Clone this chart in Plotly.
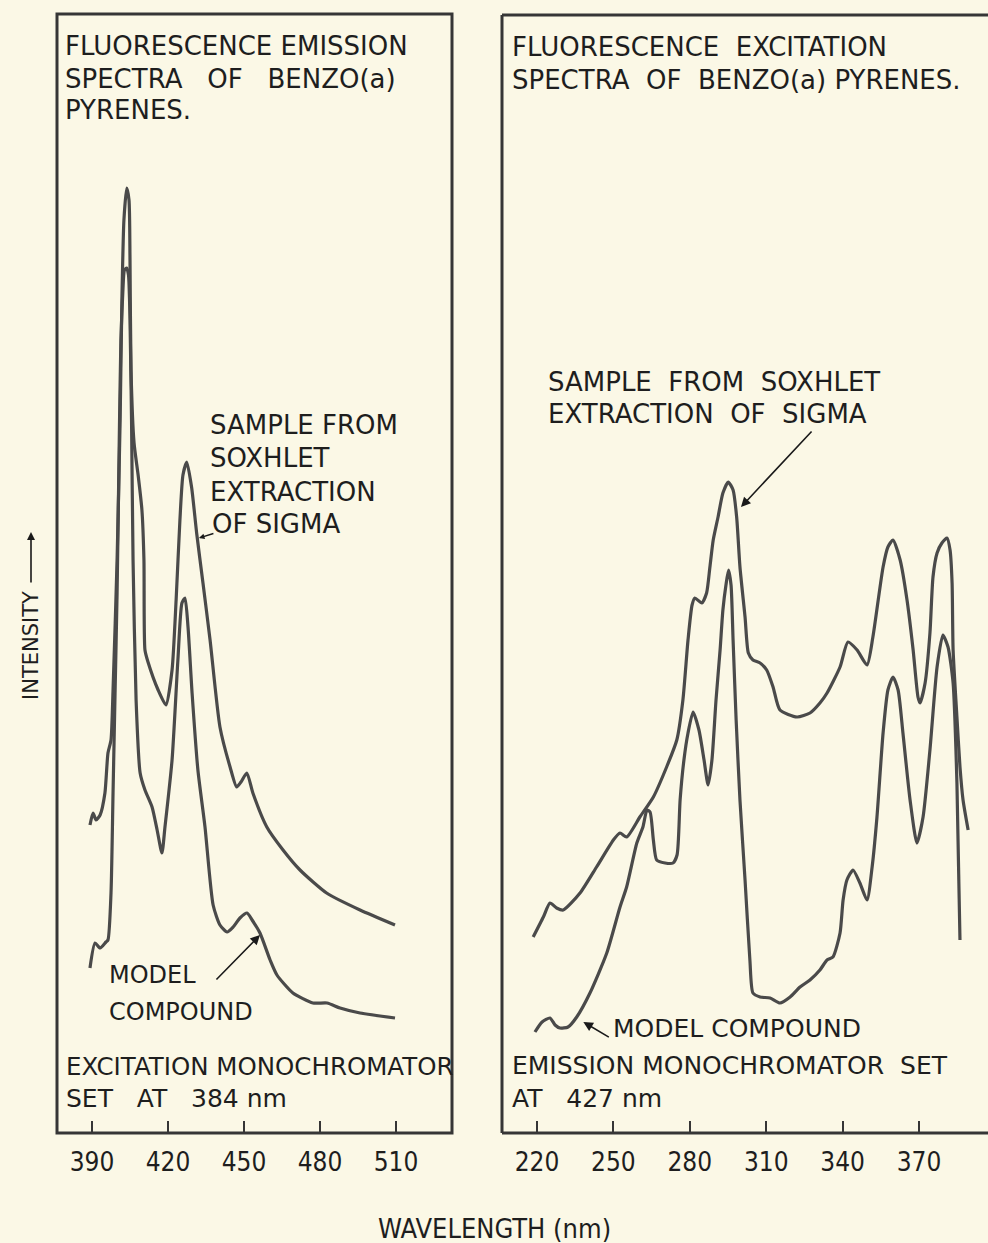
import plotly.graph_objects as go

# ---------------- data ----------------
# Left panel: fluorescence emission spectra (excitation at 384 nm)
em_sample_nm = [389.2, 390.4, 391.6, 393.2, 395.1, 396.3, 397.5, 398.3, 399.9, 401.1, 401.8, 402.6, 403.7,
                404.6, 405.0, 405.4, 406.6, 408.2, 409.7, 410.5, 410.9, 412.1, 416.1, 419.2, 421.6, 423.2,
                424.7, 425.9, 427.4, 429.3, 431.3, 433.8, 436.6, 440.5, 444.5, 447.1, 448.8, 451.1, 453.5,
                459.0, 465.4, 472.1, 482.6, 495.8, 509.6]
em_sample_int = [30.8, 32.0, 31.3, 31.8, 34.0, 38.0, 39.3, 44.3, 57.3, 71.3, 83.3, 91.3, 94.5,
                 93.3, 87.3, 76.3, 69.0, 65.8, 62.3, 57.3, 48.3, 47.1, 44.3, 42.8, 46.3, 53.3,
                 61.3, 65.8, 67.1, 64.6, 60.0, 55.0, 49.3, 40.6, 36.6, 34.6, 35.1, 36.0, 34.0,
                 30.6, 28.3, 26.3, 24.0, 22.3, 20.8]

em_model_nm = [389.2, 391.2, 393.2, 395.5, 396.3, 397.5, 398.3, 399.1, 399.9, 400.7, 401.4, 402.2, 402.8,
               403.7, 404.4, 405.0, 405.6, 406.2, 407.4, 409.0, 410.9, 413.7, 415.7, 417.6, 418.8, 421.6,
               423.9, 425.5, 426.7, 427.9, 429.5, 431.8, 434.6, 437.8, 440.5, 443.3, 445.7, 448.4, 451.2,
               453.2, 456.3, 460.3, 463.0, 469.3, 477.2, 482.8, 487.9, 495.8, 509.6]
em_model_int = [16.5, 19.0, 18.5, 19.1, 19.3, 24.0, 34.0, 44.0, 54.0, 68.3, 79.3, 84.3, 86.3,
                86.5, 85.8, 81.3, 71.3, 57.3, 43.3, 36.0, 34.3, 32.6, 30.3, 28.0, 30.6, 37.3,
                47.3, 53.0, 53.5, 50.6, 44.0, 36.3, 30.6, 22.8, 20.8, 20.1, 20.6, 21.5, 22.0,
                21.3, 20.0, 17.3, 15.8, 14.0, 13.0, 13.0, 12.5, 12.0, 11.5]

# Right panel: fluorescence excitation spectra (emission at 427 nm)
ex_sample_nm = [218.5, 222.5, 225.1, 227.7, 230.3, 236.9, 243.4, 250.0, 252.6, 255.2, 260.4, 265.7, 270.9,
                274.9, 277.3, 279.3, 280.9, 282.0, 284.7, 286.6, 287.9, 289.2, 291.1, 293.0, 295.1, 297.0,
                298.4, 299.7, 301.7, 303.0, 304.8, 307.6, 310.2, 312.7, 315.4, 322.1, 327.2, 331.1, 333.9,
                339.0, 342.1, 345.7, 349.6, 351.9, 355.9, 357.8, 359.8, 362.6, 365.3, 367.7, 369.6, 370.4,
                372.4, 374.3, 375.5, 377.1, 379.0, 381.0, 382.2, 383.0, 383.4, 384.9, 386.1, 387.3, 389.3]
ex_sample_int = [19.6, 21.6, 23.0, 22.5, 22.3, 24.0, 26.6, 29.3, 30.0, 29.6, 31.6, 33.6, 36.6,
                 39.3, 43.3, 49.3, 52.8, 53.5, 53.0, 54.0, 56.6, 59.3, 61.6, 64.0, 65.1, 64.3,
                 61.6, 56.6, 51.6, 48.0, 47.3, 47.0, 46.3, 44.6, 42.3, 41.6, 42.0, 43.0, 44.0,
                 46.6, 49.1, 48.3, 46.8, 49.6, 56.6, 58.6, 59.3, 57.3, 53.3, 48.3, 43.6, 43.0,
                 45.0, 50.0, 55.6, 58.0, 59.0, 59.5, 58.3, 55.0, 48.3, 41.6, 36.6, 33.3, 30.3]

ex_model_nm = [219.2, 222.0, 225.1, 227.1, 229.0, 232.2, 235.6, 240.8, 247.4, 252.6, 255.2, 259.2, 261.6,
               263.2, 264.4, 265.7, 267.0, 270.3, 273.4, 275.0, 276.2, 277.7, 279.3, 281.3, 283.6, 285.6,
               287.2, 288.7, 290.3, 291.9, 293.0, 294.2, 295.2, 296.2, 297.0, 298.2, 299.7, 301.7, 303.6,
               304.8, 307.6, 311.5, 315.4, 319.4, 323.3, 327.2, 331.1, 333.9, 336.2, 339.0, 340.2, 341.7,
               344.1, 346.8, 349.6, 351.6, 353.5, 355.9, 357.8, 359.8, 361.8, 363.7, 366.5, 369.2, 371.6,
               374.3, 377.1, 379.4, 381.4, 383.4, 384.9, 386.1]
ex_model_int = [10.1, 11.1, 11.5, 10.8, 10.5, 10.6, 11.6, 14.0, 18.0, 22.6, 24.6, 29.0, 30.6,
                32.3, 32.1, 29.3, 27.3, 27.0, 27.0, 27.8, 33.3, 37.3, 40.0, 42.1, 40.3, 37.3,
                34.8, 37.3, 43.3, 48.3, 52.3, 54.8, 56.3, 54.8, 49.3, 41.3, 33.3, 25.3, 17.3,
                14.0, 13.6, 13.5, 13.0, 13.6, 14.6, 15.3, 16.3, 17.3, 17.6, 20.0, 23.3, 25.3,
                26.3, 25.0, 23.3, 26.6, 31.6, 40.0, 44.3, 45.6, 44.3, 40.0, 33.3, 29.0, 31.6,
                38.3, 46.6, 49.8, 48.6, 45.0, 35.0, 19.3]

left_ticks = [390, 420, 450, 480, 510]
right_ticks = [220, 250, 280, 310, 340, 370]

# ---------------- styling / layout ----------------
W, H = 988, 1243
BG = "#FBF8E6"
INK = "#363636"
CURVE = "#4a4a4a"
TXT = "#1e1e1e"
FONT = "DejaVu Sans, Liberation Sans, Arial, sans-serif"
NARROW = "Liberation Sans Narrow, DejaVu Sans Condensed, DejaVu Sans, sans-serif"
SP = " \u00a0"            # wide word gap as in the hand lettering
SP2 = " \u00a0\u00a0"     # wider gap


def px(x):
    return x / W


def py(y):
    return 1 - y / H


fig = go.Figure()
line_style = dict(color=CURVE, width=3.2, shape="spline", smoothing=0.6)
fig.add_trace(go.Scatter(x=em_sample_nm, y=em_sample_int, mode="lines", line=line_style,
                         xaxis="x", yaxis="y", name="Sample (Soxhlet extraction of Sigma)"))
fig.add_trace(go.Scatter(x=em_model_nm, y=em_model_int, mode="lines", line=line_style,
                         xaxis="x", yaxis="y", name="Model compound"))
fig.add_trace(go.Scatter(x=ex_sample_nm, y=ex_sample_int, mode="lines", line=line_style,
                         xaxis="x2", yaxis="y2", name="Sample (Soxhlet extraction of Sigma)"))
fig.add_trace(go.Scatter(x=ex_model_nm, y=ex_model_int, mode="lines", line=line_style,
                         xaxis="x2", yaxis="y2", name="Model compound"))

ydom = [py(1133), py(14)]
yr = [0, 111.9]
common_x = dict(showgrid=False, zeroline=False, showline=False, ticks="inside", ticklen=12,
                tickwidth=2, tickcolor=INK, ticklabelstandoff=11,
                tickfont=dict(family=NARROW, size=26, color=TXT))
fig.update_layout(
    width=W, height=H, margin=dict(l=0, r=0, t=0, b=0),
    paper_bgcolor=BG, plot_bgcolor="rgba(0,0,0,0)", showlegend=False,
    xaxis=dict(domain=[px(57), px(452)], range=[376.18, 532.1], anchor="y",
               tickvals=left_ticks, **common_x),
    yaxis=dict(domain=ydom, range=yr, visible=False, anchor="x"),
    xaxis2=dict(domain=[px(502), 1.0], range=[206.26, 397.1], anchor="y2",
                tickvals=right_ticks, **common_x),
    yaxis2=dict(domain=ydom, range=yr, visible=False, anchor="x2"),
)

# frames
frame = dict(color=INK, width=3)
shapes = [
    dict(type="rect", xref="paper", yref="paper", x0=px(57), x1=px(452), y0=py(1133), y1=py(14), line=frame),
    dict(type="line", xref="paper", yref="paper", x0=px(502), x1=1.0, y0=py(15), y1=py(15), line=frame),
    dict(type="line", xref="paper", yref="paper", x0=px(502), x1=px(502), y0=py(15), y1=py(1133), line=frame),
    dict(type="line", xref="paper", yref="paper", x0=px(502), x1=1.0, y0=py(1133), y1=py(1133), line=frame),
]
fig.update_layout(shapes=shapes)

anns = []


def label(text, x, y, size=26, xanchor="left", font=FONT, angle=0):
    anns.append(dict(text=text, x=px(x), y=py(y), xref="paper", yref="paper", showarrow=False,
                     xanchor=xanchor, yanchor="middle", textangle=angle,
                     font=dict(family=font, size=size, color=TXT)))


# left panel texts
label("FLUORESCENCE EMISSION", 63, 46)
label("SPECTRA" + SP2 + "OF" + SP2 + "BENZO(a)", 63, 79)
label("PYRENES.", 63, 110)
label("SAMPLE FROM", 208, 425)
label("SOXHLET", 208, 458)
label("EXTRACTION", 208, 492)
label("OF SIGMA", 210, 524)
label("MODEL", 107, 975, size=24)
label("COMPOUND", 107, 1012, size=24)
label("EXCITATION MONOCHROMATOR", 64, 1066, size=24.5)
label("SET" + SP2 + "AT" + SP2 + "384 nm", 64, 1098, size=25)

# right panel texts
label("FLUORESCENCE" + SP + "EXCITATION", 510, 47)
label("SPECTRA" + SP + "OF" + SP + "BENZO(a) PYRENES.", 510, 80)
label("SAMPLE" + SP + "FROM" + SP + "SOXHLET", 546, 382)
label("EXTRACTION" + SP + "OF" + SP + "SIGMA", 546, 414)
label("MODEL COMPOUND", 611, 1028, size=25)
label("EMISSION MONOCHROMATOR" + SP + "SET", 510, 1065, size=25)
label("AT" + SP2 + "427 nm", 510, 1098, size=25)

# axis titles
label("WAVELENGTH (nm)", 494, 1228, size=27, xanchor="center", font=NARROW)
label("INTENSITY", 31, 645, size=21, xanchor="center", angle=-90)

# arrows
arrow = dict(showarrow=True, arrowhead=2, arrowsize=1.2, arrowwidth=1.6, arrowcolor="#1a1a1a", text="")
anns.append(dict(x=456.3, y=19.8, xref="x", yref="y", ax=-45, ay=46, **arrow))
anns.append(dict(x=432.2, y=59.5, xref="x", yref="y", ax=16, ay=-5,
                 showarrow=True, arrowhead=2, arrowsize=0.8, arrowwidth=1.4, arrowcolor="#1a1a1a", text=""))
anns.append(dict(x=300.1, y=62.6, xref="x2", yref="y2", ax=72, ay=-77, **arrow))
anns.append(dict(x=238.2, y=11.1, xref="x2", yref="y2", ax=27, ay=16, **arrow))
# intensity arrow
anns.append(dict(x=px(31), y=py(532), xref="paper", yref="paper", ax=0, ay=52,
                 showarrow=True, arrowhead=2, arrowsize=1.0, arrowwidth=1.6, arrowcolor="#1a1a1a", text=""))

fig.update_layout(annotations=anns)
fig.write_html("out.html", config={"displayModeBar": False, "staticPlot": True},
               post_script="document.body.style.margin='0';document.body.style.overflow='hidden';")
